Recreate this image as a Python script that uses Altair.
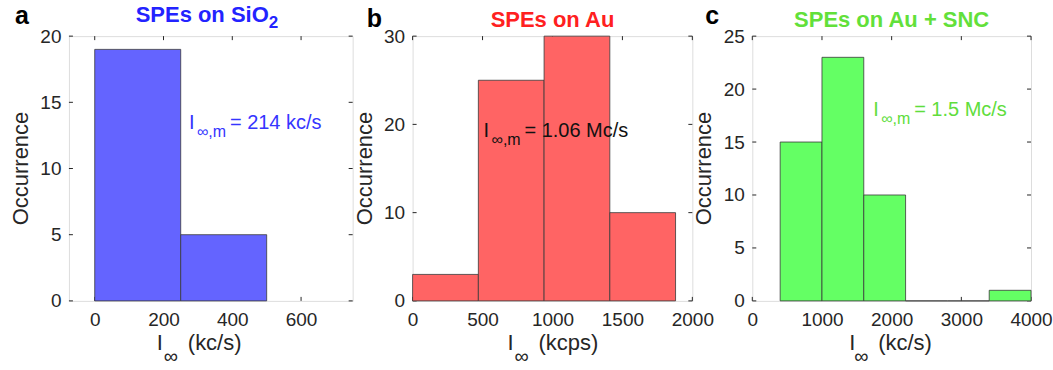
import altair as alt
import pandas as pd

FONT = "Liberation Sans"
AXC = "#262626"
H = 265

# ---- data ----
a_edges = [0, 250, 500]
a_counts = [19, 5]
b_edges = [0, 470, 940, 1410, 1880]
b_counts = [3, 25, 30, 10]
c_edges = [400, 1000, 1600, 2200, 2800, 3400, 4000]
c_counts = [15, 23, 10, 0, 0, 1]

a_xticks = [0, 200, 400, 600]
b_xticks = [0, 500, 1000, 1500, 2000]
c_xticks = [0, 1000, 2000, 3000, 4000]
a_yticks = [0, 5, 10, 15, 20]
b_yticks = [0, 10, 20, 30]
c_yticks = [0, 5, 10, 15, 20, 25]

a_xdom, b_xdom, c_xdom = [-75, 750], [0, 2000], [0, 4000]
a_ydom, b_ydom, c_ydom = [0, 20], [0, 30], [0, 25]

titles = ["SPEs on SiO", "SPEs on Au", "SPEs on Au + SNC"]
letters = ["a", "b", "c"]
annot_text = ["= 214 kc/s", "= 1.06 Mc/s", "= 1.5 Mc/s"]
annot_x = [274, 507, 1735]
annot_y = [12.98, 18.57, 17.45]
units = ["(kc/s)", "(kcps)", "(kc/s)"]


def txt(s, x, y, size, color="#262626", weight="normal", align="left",
        baseline="alphabetic", angle=None):
    kw = dict(font=FONT, fontSize=size, color=color, fontWeight=weight,
              align=align, baseline=baseline)
    if angle is not None:
        kw["angle"] = angle
    return alt.Chart(pd.DataFrame({"t": [s]})).mark_text(**kw).encode(
        x=alt.value(x), y=alt.value(y), text="t:N")


def panel(edges, counts, xdom, xticks, ydom, yticks, W, fill, acolor, ai,
          tcolor, letter_pos, xt_pos, anchor=False):
    xs = alt.Scale(domain=xdom, nice=False, zero=False)
    ys = alt.Scale(domain=ydom, nice=False, zero=False)
    xax = alt.Axis(values=xticks, title=None, grid=False, domain=False,
                   ticks=False, tickSize=0, labelPadding=10, labelFont=FONT,
                   labelFontSize=19, labelColor=AXC, labelFlush=False,
                   labelOverlap=False, format="d")
    yax = alt.Axis(values=yticks, title=None, grid=False, domain=False,
                   ticks=False, tickSize=0, labelPadding=8, labelFont=FONT,
                   labelFontSize=19, labelColor=AXC, labelFlush=False,
                   labelOverlap=False, format="d")
    df = pd.DataFrame({"x0": edges[:-1], "x1": edges[1:], "n": counts,
                       "z": [0] * len(counts)})
    bars = alt.Chart(df).mark_rect(fill=fill, stroke="#3a3a3a",
                                   strokeWidth=0.8).encode(
        x=alt.X("x0:Q", scale=xs, axis=xax),
        x2="x1:Q",
        y=alt.Y("n:Q", scale=ys, axis=yax),
        y2="z:Q")
    xt = pd.DataFrame({"v": xticks})
    yt = pd.DataFrame({"v": yticks})
    rk = dict(color=AXC, strokeWidth=1)
    tb = alt.Chart(xt).mark_rule(**rk).encode(
        x=alt.X("v:Q", scale=xs, axis=xax), y=alt.value(H), y2=alt.value(H - 4))
    tt = alt.Chart(xt).mark_rule(**rk).encode(
        x=alt.X("v:Q", scale=xs, axis=xax), y=alt.value(0), y2=alt.value(4))
    tl = alt.Chart(yt).mark_rule(**rk).encode(
        y=alt.Y("v:Q", scale=ys, axis=yax), x=alt.value(0), x2=alt.value(4))
    tr = alt.Chart(yt).mark_rule(**rk).encode(
        y=alt.Y("v:Q", scale=ys, axis=yax), x=alt.value(W - 4), x2=alt.value(W))

    adf = pd.DataFrame({"x": [annot_x[ai]], "y": [annot_y[ai]],
                        "i": ["I"], "s": ["\u221e,m"], "r": [annot_text[ai]]})
    base = alt.Chart(adf).encode(x=alt.X("x:Q", scale=xs, axis=xax),
                                 y=alt.Y("y:Q", scale=ys, axis=yax))
    a1 = base.mark_text(font=FONT, fontSize=20, color=acolor, align="left",
                        baseline="alphabetic").encode(text="i:N")
    a2 = base.mark_text(font=FONT, fontSize=16, color=acolor, align="left",
                        baseline="alphabetic", dx=8, dy=8).encode(text="s:N")
    a3 = base.mark_text(font=FONT, fontSize=20, color=acolor, align="left",
                        baseline="alphabetic", dx=41).encode(text="r:N")

    layers = [tb, tt, tl, tr, bars, a1, a2, a3]
    # panel letter
    layers.append(txt(letters[ai], letter_pos[0], letter_pos[1], 25,
                      color="#000000", weight="bold"))
    # title
    if ai == 0:
        layers.append(txt(titles[0], 200, -14, 22, tcolor, "bold", align="right"))
        layers.append(txt("2", 200, -8, 17, tcolor, "bold", align="left"))
    else:
        layers.append(txt(titles[ai], W / 2, -9, 22, tcolor, "bold", align="center"))
    # x-axis title  I_inf (unit)
    layers.append(txt("I", xt_pos[0], 314, 22))
    layers.append(txt("\u221e", xt_pos[1], 327, 20))
    layers.append(txt(units[ai], xt_pos[2], 314, 22))
    # y-axis title
    layers.append(txt("Occurrence", -41, H / 2, 22, align="center", angle=270))
    if anchor:
        layers.append(alt.Chart(pd.DataFrame({"t": [0]})).mark_rule(
            strokeOpacity=0, strokeWidth=1).encode(
            x=alt.value(-68), x2=alt.value(-60), y=alt.value(-35), y2=alt.value(-35)))
    return alt.layer(*layers).properties(width=W, height=H)


pa = panel(a_edges, a_counts, a_xdom, a_xticks, a_ydom, a_yticks, 284,
           "#6464FF", "#3535FF", 0, "#2323FF", (-54, -12), (88, 95, 119), anchor=True)
pb = panel(b_edges, b_counts, b_xdom, b_xticks, b_ydom, b_yticks, 280,
           "#FF6464", "#111111", 1, "#FF2020", (-46, -9), (95, 102, 126))
pc = panel(c_edges, c_counts, c_xdom, c_xticks, c_ydom, c_yticks, 279,
           "#64FF64", "#60DD3C", 2, "#62E03A", (-47, -12), (97, 102, 126))

chart = alt.hconcat(pa, pb, pc, spacing=60, bounds="flush").properties(
    padding={"left": 0, "top": 0, "right": 0, "bottom": 0}
).configure_view(stroke=AXC, strokeWidth=1).configure(background="white")

chart.save("out.html", embed_options={"renderer": "svg", "actions": False})
